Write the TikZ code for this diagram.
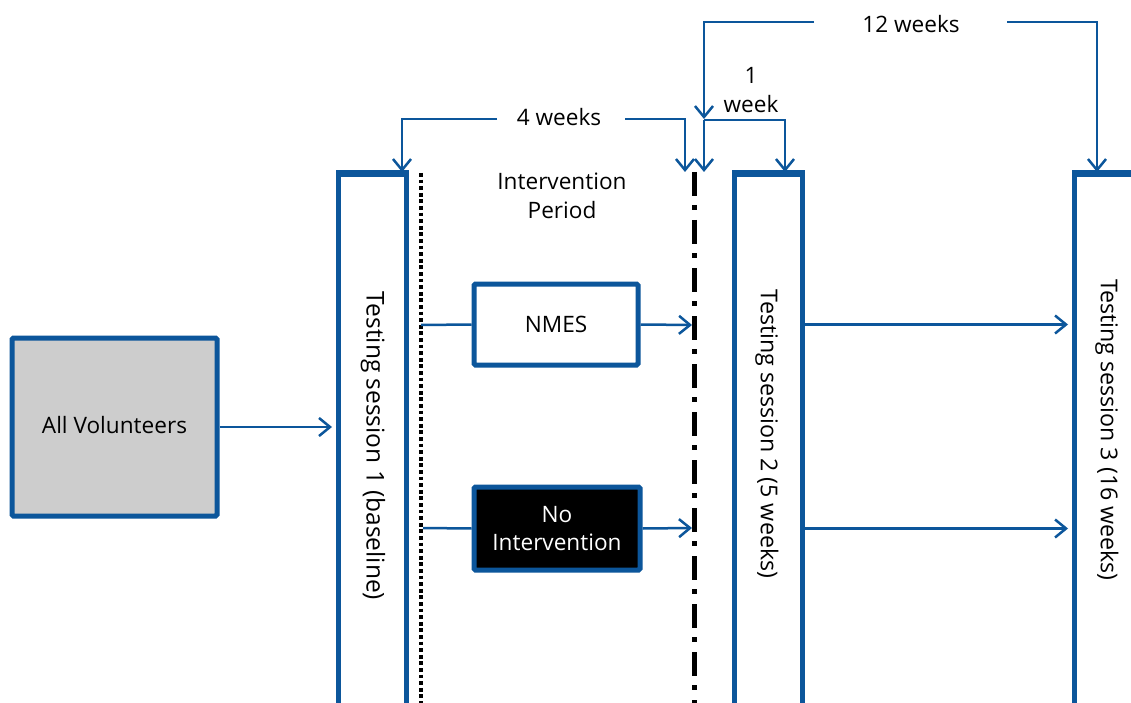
\documentclass[tikz,border=0pt]{standalone}
\usepackage{fontspec}
\setmainfont{Open Sans}
\usetikzlibrary{arrows.meta,calc}
\definecolor{bl}{RGB}{12,86,155}
\definecolor{gr}{RGB}{205,205,205}
\begin{document}
\begin{tikzpicture}[x=1pt,y=-1pt,
  font=\fontsize{22.6}{28.5}\selectfont,
  ln/.style={draw=bl, line width=2.5pt},
  arr/.style={ln, -{Straight Barb[length=11pt,width=18pt,line width=2.5pt]}},
  box/.style={draw=bl, line width=5pt, rounded corners=1.5pt, inner sep=0pt, align=center},
  tallbox/.style={draw=bl, line width=5pt, inner sep=0pt, minimum width=68pt, minimum height=600pt},
  toplid/.style={draw=bl, line width=7pt},
  vlbl/.style={rotate=-90, inner sep=0pt, font=\fontsize{24.5}{28}\selectfont},
  vlbls/.style={rotate=-90, inner sep=0pt, font=\fontsize{23.2}{28}\selectfont},
  lbl/.style={align=center, inner sep=0pt}]
\clip (0,0) rectangle (1131,703);
\fill[white] (0,0) rectangle (1131,703);

% boxes
\node[box, fill=gr, minimum width=205pt, minimum height=178pt] (av) at (114.5,427) {\raisebox{5pt}{All Volunteers}};
\node[tallbox] (ts1) at (372.5,475) {};
\node[tallbox] (ts2) at (768.5,475) {};
\node[tallbox] (ts3) at (1108.5,475) {};
\draw[toplid] ([yshift=-1pt]ts1.north west) -- ([yshift=-1pt]ts1.north east);
\draw[toplid] ([yshift=-1pt]ts2.north west) -- ([yshift=-1pt]ts2.north east);
\draw[toplid] ([yshift=-1pt]ts3.north west) -- ([yshift=-1pt]ts3.north east);
\node[vlbl] (t1) at (373,446) {Testing session 1 (baseline)};
\node[vlbls] (t2) at (767,434) {Testing session 2 (5 weeks)};
\node[vlbls] (t3) at (1107,430) {Testing session 3 (16 weeks)};
\node[box, fill=white, minimum width=164pt, minimum height=81pt] (nmes) at (556,324.5) {NMES};
\node[box, fill=black, text=white, minimum width=166pt, minimum height=83pt] (noint) at (557,528.5) {No\\Intervention};

% vertical lines
\coordinate (dtop) at (421,173);
\coordinate (dbot) at (421,703);
\coordinate (ctop) at (694,172);
\coordinate (cbot) at (694,703);
\draw[black, line width=4.5pt, dash pattern=on 3.8pt off 2.8pt] (dtop) -- (dbot);
\draw[black, line width=5pt, dash pattern=on 24pt off 9pt on 5pt off 10pt] (ctop) -- (cbot);

% labels
\node[lbl] (ip) at (562,196) {Intervention\\Period};
\node[lbl] (w4) at (559,117) {4 weeks};
\node[lbl] (w12) at (911,24) {12 weeks};
\node[lbl] (w1) at (751,90) {1\\week};

% connectors
\draw[arr, shorten >=4pt] (av.east) -- (av.east -| ts1.west);
\coordinate (d1) at (421,325);
\coordinate (d2) at (423,528);
\coordinate (e1) at (692,325);
\coordinate (e2) at (692,528);
\draw[ln] (d1) -- (nmes.west);
\draw[ln] (d2) -- (noint.west);
\draw[arr] (nmes.east) -- (e1);
\draw[arr] (noint.east) -- (e2);
\draw[arr, shorten >=4pt] (ts2.east |- nmes.east) -- (ts3.west |- nmes.east);
\draw[arr, shorten >=4pt] (ts2.east |- noint.east) -- (ts3.west |- noint.east);

% brackets
\coordinate (w4l) at (497,119);
\coordinate (w4r) at (625,119);
\coordinate (a4l) at (402,172);
\coordinate (a4r) at (685,172);
\draw[arr] (w4l) -| (a4l);
\draw[arr] (w4r) -| (a4r);
\coordinate (w12l) at (814,22);
\coordinate (w12r) at (1007,22);
\coordinate (a12m) at (704,119);
\coordinate (a12r) at (1097,172);
\draw[arr] (w12l) -| (a12m);
\draw[arr] (w12r) -| (a12r);
\coordinate (w1s) at (704,120);
\coordinate (a1l) at (704,172);
\coordinate (a1r) at (785,172);
\draw[arr] (w1s) -- (a1l);
\draw[arr] (w1s) -| (a1r);
\end{tikzpicture}
\end{document}
